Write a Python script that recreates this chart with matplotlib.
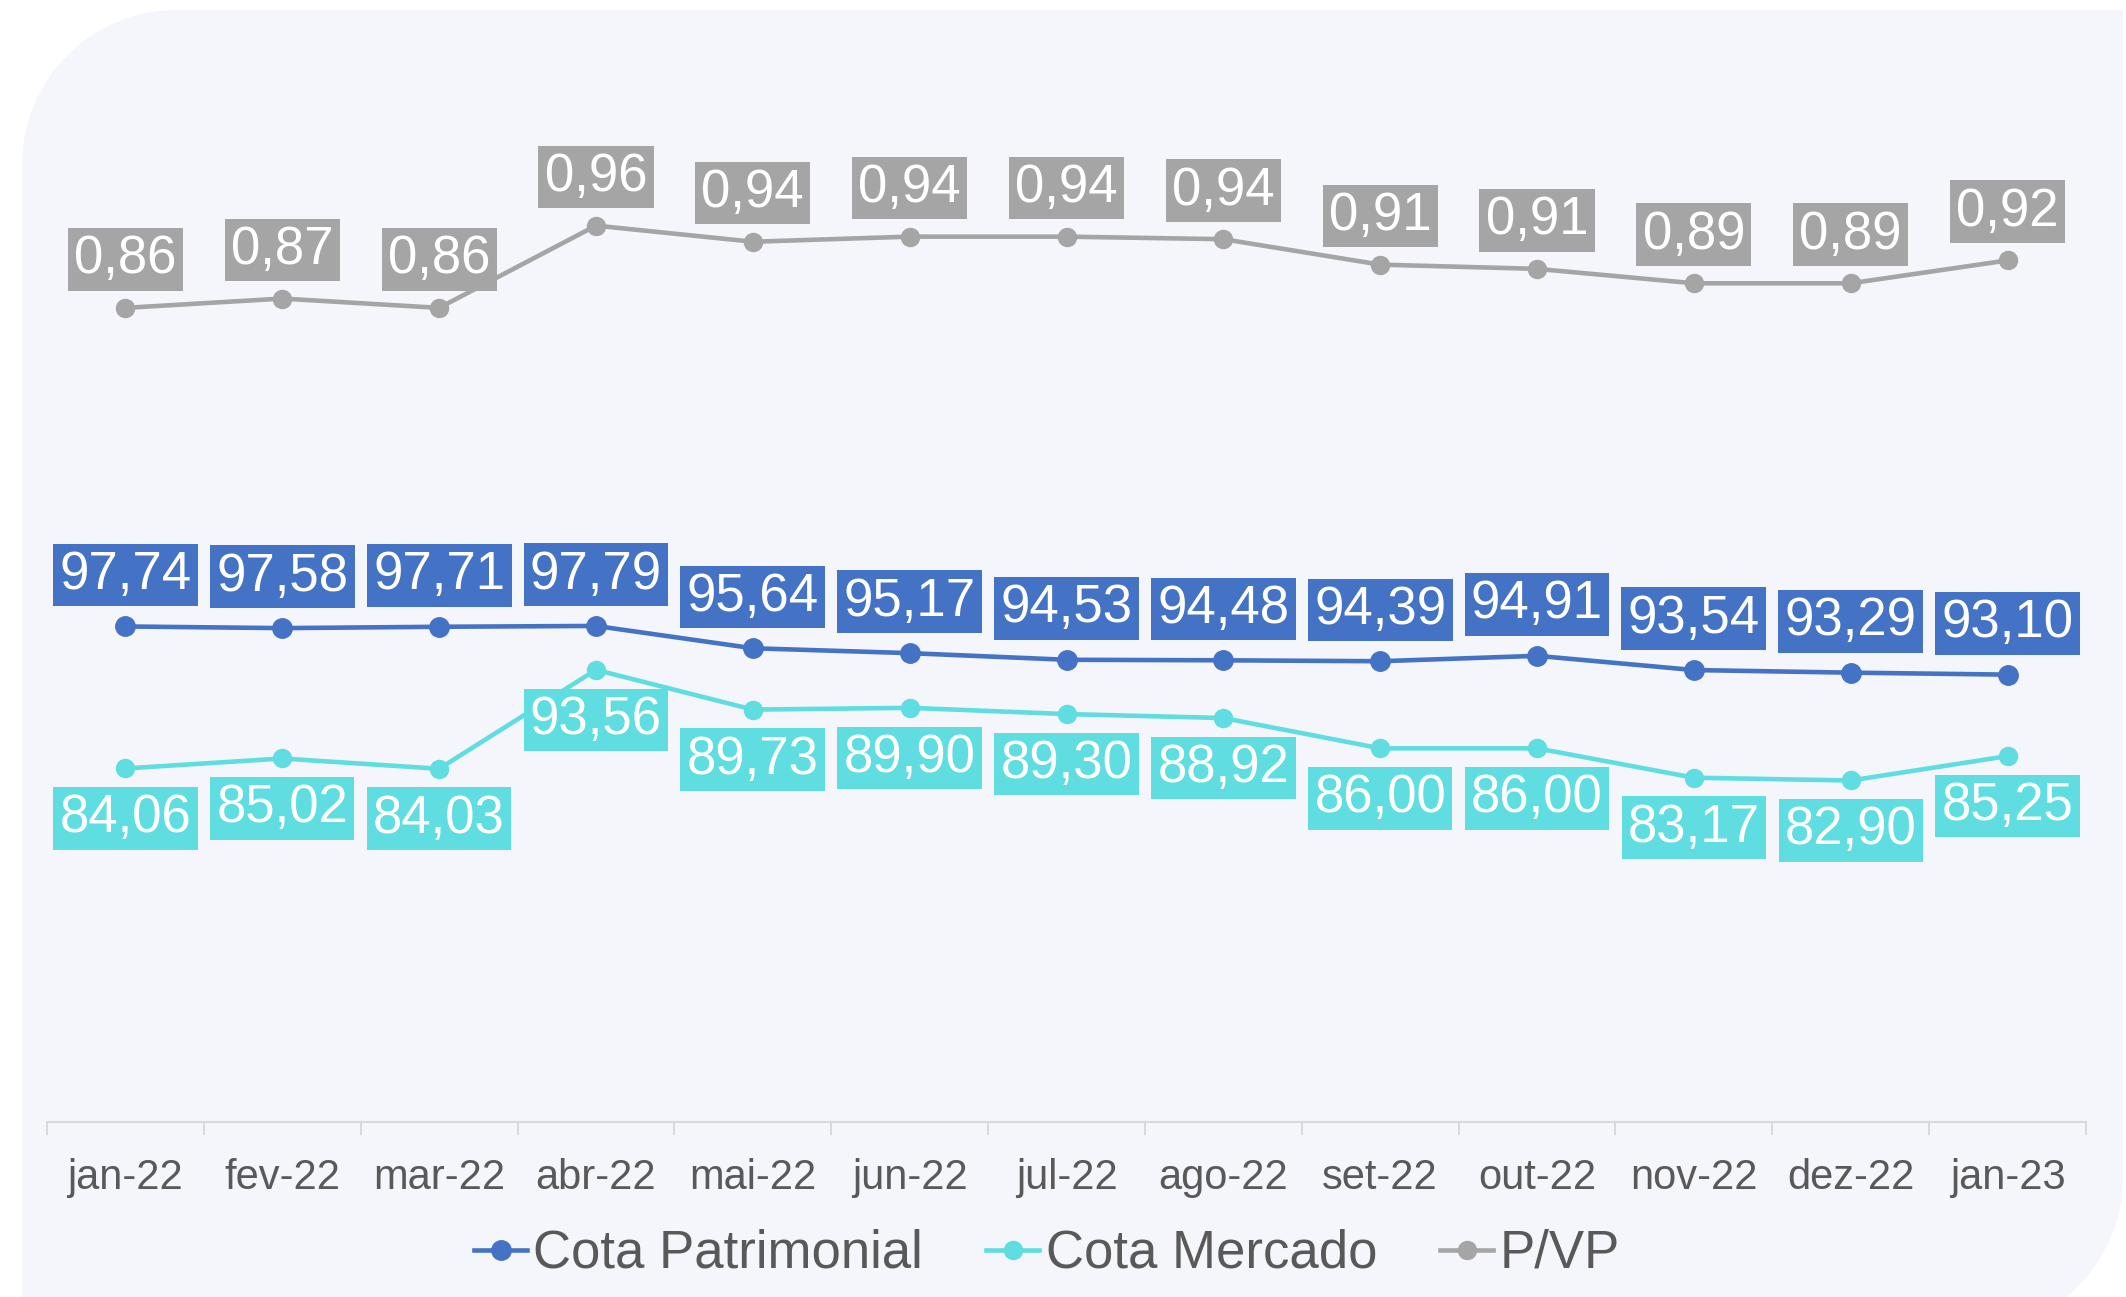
import matplotlib.pyplot as plt
from matplotlib.patches import PathPatch
from matplotlib.path import Path

plt.rcParams['font.family'] = ['Liberation Sans', 'DejaVu Sans']

# data
meses = ['jan-22', 'fev-22', 'mar-22', 'abr-22', 'mai-22', 'jun-22', 'jul-22',
         'ago-22', 'set-22', 'out-22', 'nov-22', 'dez-22', 'jan-23']
cota_patrimonial = [97.74, 97.58, 97.71, 97.79, 95.64, 95.17, 94.53,
                    94.48, 94.39, 94.91, 93.54, 93.29, 93.10]
cota_mercado = [84.06, 85.02, 84.03, 93.56, 89.73, 89.90, 89.30,
                88.92, 86.00, 86.00, 83.17, 82.90, 85.25]
p_vp = [0.860, 0.871, 0.860, 0.957, 0.938, 0.944, 0.944,
        0.941, 0.911, 0.906, 0.889, 0.889, 0.916]

azul = '#4472C4'
ciano = '#5FDDE0'
cinza = '#A5A5A5'
texto = '#595959'

W, H = 2126, 1297
fig = plt.figure(figsize=(W / 100, H / 100), dpi=100)
fig.patch.set_facecolor('white')

# light panel with two rounded corners (top-left, bottom-right)
bg = fig.add_axes([0, 0, 1, 1], zorder=-5)
bg.set_xlim(0, W)
bg.set_ylim(H, 0)
bg.axis('off')
x0, y0, x1, y1, r = 22, 10, 2123, 1332, 155
k = 0.5523
verts = [(x0 + r, y0), (x1, y0), (x1, y1 - r),
         (x1, y1 - r + k * r), (x1 - r + k * r, y1), (x1 - r, y1),
         (x0, y1), (x0, y0 + r),
         (x0, y0 + r - k * r), (x0 + r - k * r, y0), (x0 + r, y0)]
codes = [Path.MOVETO, Path.LINETO, Path.LINETO,
         Path.CURVE4, Path.CURVE4, Path.CURVE4,
         Path.LINETO, Path.LINETO,
         Path.CURVE4, Path.CURVE4, Path.CURVE4]
bg.add_patch(PathPatch(Path(verts, codes), facecolor='#F5F6FC', edgecolor='none'))

ax = fig.add_axes([47 / W, 1 - 1122 / H, (2086 - 47) / W, 1038 / H])
ax.patch.set_visible(False)
ax2 = ax.twinx()

x = list(range(len(meses)))
l1, = ax.plot(x, cota_patrimonial, color=azul, lw=3.3, marker='o', ms=14,
              label='Cota Patrimonial')
l2, = ax.plot(x, cota_mercado, color=ciano, lw=3.3, marker='o', ms=13,
              label='Cota Mercado')
l3, = ax2.plot(x, p_vp, color=cinza, lw=3.3, marker='o', ms=13, label='P/VP')

ax.set_ylim(50, 150)
ax2.set_ylim(-0.1, 1.124)
ax.set_xlim(-0.5, len(meses) - 0.5)


def fmt(v):
    return f'{v:.2f}'.replace('.', ',')


def rotulos(eixo, valores, cor, dy):
    for i, v in enumerate(valores):
        eixo.annotate(fmt(v), (i, v), xytext=(0, dy), textcoords='offset points',
                      ha='center', va='center', fontsize=38, color='white',
                      zorder=10,
                      bbox=dict(boxstyle='square,pad=0.12', fc=cor, ec='none'))


rotulos(ax, cota_patrimonial, azul, 37)
rotulos(ax, cota_mercado, ciano, -36)
rotulos(ax2, p_vp, cinza, 35)

for a in (ax, ax2):
    for s in a.spines.values():
        s.set_visible(False)
    a.set_yticks([])
ax.spines['bottom'].set_visible(True)
ax.spines['bottom'].set_color('#D9D9D9')
ax.spines['bottom'].set_linewidth(1.5)

ax.set_xticks(x)
ax.set_xticklabels(meses, fontsize=30, color=texto)
ax.tick_params(axis='x', which='major', length=0, pad=26)
ax.set_xticks([i - 0.5 for i in range(len(meses) + 1)], minor=True)
ax.tick_params(axis='x', which='minor', length=9, width=1.4, color='#D9D9D9')

fig.legend([l1, l2, l3], [l1.get_label(), l2.get_label(), l3.get_label()],
           loc='center', bbox_to_anchor=(1047 / W, 1 - 1254 / H), ncol=3,
           frameon=False, fontsize=38, handlelength=1.0, handletextpad=0.12,
           columnspacing=1.2, labelcolor=texto, borderaxespad=0)

fig.savefig('out.png', dpi=100)
